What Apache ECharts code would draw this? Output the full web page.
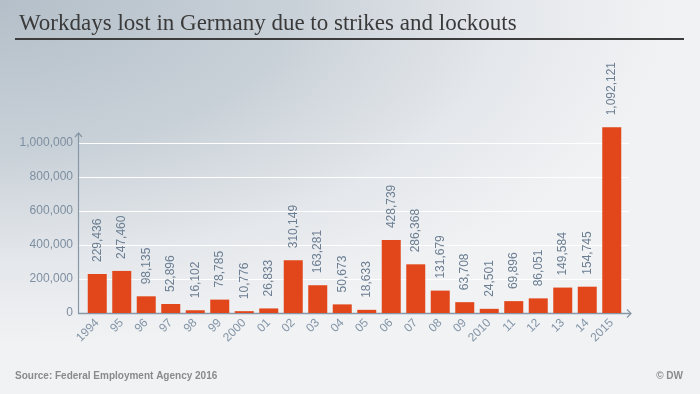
<!DOCTYPE html>
<html><head><meta charset="utf-8">
<script src="https://cdn.jsdelivr.net/npm/echarts@6/dist/echarts.min.js"></script>
<style>
html,body{margin:0;padding:0;width:700px;height:394px;overflow:hidden;}
body{background:radial-gradient(ellipse 120% 110% at 0% 0%, #b4bfc9 0%, #c9d1d8 35%, #e4e7eb 60%, #f1f2f4 80%, #f1f2f4 100%);}
#c{width:700px;height:394px;}
</style></head>
<body><div id="c"></div>
<script>
var categories = ['1994','95','96','97','98','99','2000','01','02','03','04','05','06','07','08','09','2010','11','12','13','14','2015'];
var workdaysLost = [229436,247460,98135,52896,16102,78785,10776,26833,310149,163281,50673,18633,428739,286368,131679,63708,24501,69896,86051,149584,154745,1092121];
var yTicks = [200000,400000,600000,800000,1000000];

var chart = echarts.init(document.getElementById('c'), null, {renderer:'canvas'});
var fmt = function(v){ return Number(v).toLocaleString('en-US'); };
chart.setOption({
  backgroundColor: 'transparent',
  animation: false,
  title: {
    text: 'Workdays lost in Germany due to strikes and lockouts',
    left: 14, top: 7,
    textStyle: {fontFamily: 'Liberation Serif', fontWeight: 'normal', fontSize: 23, color: '#3a3a3a'}
  },
  grid: {left: 85, right: 76, top: 143, bottom: 81},
  xAxis: {
    type: 'category', data: categories,
    axisLine: {show: false}, axisTick: {show: false},
    axisLabel: {rotate: 45, margin: 8, fontSize: 12, fontFamily: 'Liberation Sans', color: '#8395a7', interval: 0}
  },
  yAxis: {
    type: 'value', min: 0, max: 1000000, interval: 200000, offset: 7,
    axisLine: {show: false}, axisTick: {show: false}, splitLine: {show: false},
    axisLabel: {margin: 5, fontSize: 12, fontFamily: 'Liberation Sans', color: '#7d8ea0', formatter: fmt}
  },
  series: [{
    type: 'bar', data: workdaysLost, barWidth: 19, clip: false, z: 3,
    itemStyle: {color: '#e1471a'},
    label: {show: true, position: 'top', rotate: 90, align: 'left', verticalAlign: 'middle', distance: 12,
      fontSize: 12, fontFamily: 'Liberation Sans', color: '#6b7e92', formatter: function(p){ return fmt(p.value); }}
  }]
});

function build(){
  var g = [];
  var x0 = 78, x1 = 629;
  var yZero = chart.convertToPixel({yAxisIndex: 0}, 0);
  yTicks.forEach(function(t){
    var y = Math.round(chart.convertToPixel({yAxisIndex: 0}, t)) + 0.5;
    g.push({type:'line', z: 0, shape:{x1:x0, y1:y, x2:x1, y2:y}, style:{stroke:'#ffffff', lineWidth:1}});
  });
  var yTop = chart.convertToPixel({yAxisIndex: 0}, 1000000) - 10;
  var ax = '#8797a8';
  var yz = Math.round(yZero) + 0.5;
  g.push({type:'line', z: 1, shape:{x1:x0+0.5, y1:yz, x2:x0+0.5, y2:yTop}, style:{stroke:ax, lineWidth:1.2}});
  g.push({type:'polyline', z: 1, shape:{points:[[x0-3, yTop+4],[x0+0.5, yTop],[x0+4, yTop+4]]}, style:{stroke:ax, lineWidth:1.2, fill:null}});
  g.push({type:'line', z: 1, shape:{x1:x0, y1:yz, x2:x1+2, y2:yz}, style:{stroke:ax, lineWidth:1.5}});
  g.push({type:'polyline', z: 1, shape:{points:[[x1-2, yz-4],[x1+2, yz],[x1-2, yz+4]]}, style:{stroke:ax, lineWidth:1.2, fill:null}});
  g.push({type:'line', z: 1, shape:{x1:15, y1:39, x2:684, y2:39}, style:{stroke:'#3c3c3c', lineWidth:2}});
  g.push({type:'text', z: 1, left: 15, top: 371, style:{text:'Source: Federal Employment Agency 2016', font:'bold 10px "Liberation Sans"', fill:'#8a8a8a'}});
  g.push({type:'text', z: 1, right: 17, top: 371, style:{text:'© DW', font:'bold 10px "Liberation Sans"', fill:'#8a8a8a'}});
  chart.setOption({graphic: g});
}
build();
</script>
</body></html>
